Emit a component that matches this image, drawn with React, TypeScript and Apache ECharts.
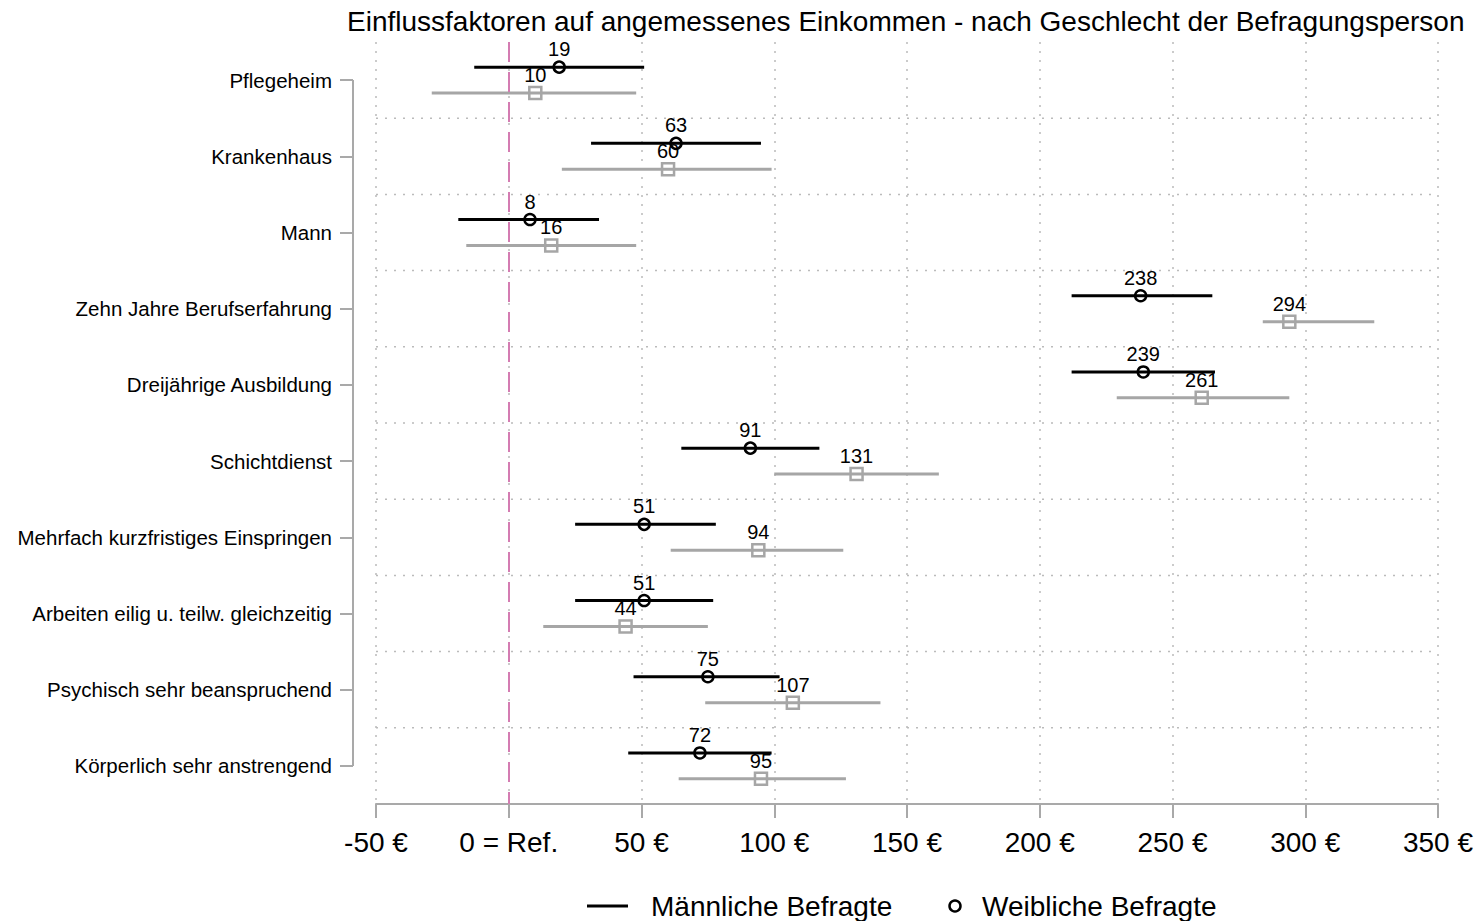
import React, { useEffect, useRef } from "react";
import * as echarts from "echarts";

const categories = [
  "Pflegeheim",
  "Krankenhaus",
  "Mann",
  "Zehn Jahre Berufserfahrung",
  "Dreijährige Ausbildung",
  "Schichtdienst",
  "Mehrfach kurzfristiges Einspringen",
  "Arbeiten eilig u. teilw. gleichzeitig",
  "Psychisch sehr beanspruchend",
  "Körperlich sehr anstrengend",
];
const maleEst = [19, 63, 8, 238, 239, 91, 51, 51, 75, 72];
const maleLo = [-13, 31, -19, 212, 212, 65, 25, 25, 47, 45];
const maleHi = [51, 95, 34, 265, 266, 117, 78, 77, 102, 99];
const femaleEst = [10, 60, 16, 294, 261, 131, 94, 44, 107, 95];
const femaleLo = [-29, 20, -16, 284, 229, 100, 61, 13, 74, 64];
const femaleHi = [48, 99, 48, 326, 294, 162, 126, 75, 140, 127];
const xMin = -50;
const xMax = 350;
const xStep = 50;

const FONT = "'Liberation Sans', Arial, sans-serif";
const GRAY = "#a6a6a6";
const AXIS_GRAY = "#a9a9a9";

function makeRows(lo: number[], hi: number[], est: number[]) {
  return est.map((e, i) => [lo[i], hi[i], e, i]);
}

function errRender(sign: number, color: string, marker: "circle" | "square") {
  return (params: any, api: any) => {
    const idx = api.value(3);
    const band = api.coord([0, 1])[1] - api.coord([0, 0])[1];
    const off = Math.abs(band) * 0.17 * sign;
    const a = api.coord([api.value(0), idx]);
    const b = api.coord([api.value(1), idx]);
    const p = api.coord([api.value(2), idx]);
    const y = p[1] + off;
    const children: any[] = [
      {
        type: "line",
        shape: { x1: a[0], y1: y, x2: b[0], y2: y },
        style: { stroke: color, lineWidth: 3 },
      },
    ];
    if (marker === "circle") {
      children.push({
        type: "circle",
        shape: { cx: p[0], cy: y, r: 5.5 },
        style: { stroke: color, lineWidth: 2.5, fill: "none" },
      });
    } else {
      children.push({
        type: "rect",
        shape: { x: p[0] - 6, y: y - 6, width: 12, height: 12 },
        style: { stroke: color, lineWidth: 2.5, fill: "none" },
      });
    }
    children.push({
      type: "text",
      x: p[0],
      y: y - 18,
      style: {
        text: String(api.value(2)),
        fill: "#000",
        font: `20px ${FONT}`,
        textAlign: "center",
        textVerticalAlign: "middle",
      },
    });
    return { type: "group", children };
  };
}

function frameRender(params: any, api: any) {
  const n = categories.length;
  const children: any[] = [];
  const top = api.coord([xMin, 0]);
  const bot = api.coord([xMin, n - 1]);
  children.push({
    type: "line",
    shape: { x1: top[0] - 23, y1: top[1], x2: bot[0] - 23, y2: bot[1] },
    style: { stroke: AXIS_GRAY, lineWidth: 2 },
  });
  for (let i = 0; i < n - 1; i++) {
    const l1 = api.coord([xMin, i]);
    const l2 = api.coord([xMin, i + 1]);
    const r = api.coord([xMax, i]);
    const y = (l1[1] + l2[1]) / 2;
    children.push({
      type: "line",
      shape: { x1: l1[0], y1: y, x2: r[0], y2: y },
      style: { stroke: "#bbbbbb", lineWidth: 1.5, lineDash: [2, 7] },
    });
  }
  return { type: "group", children };
}

export default function App() {
  const ref = useRef<HTMLDivElement>(null);
  useEffect(() => {
    if (!ref.current) return;
    const chart = echarts.init(ref.current, null, { renderer: "svg" });
    chart.setOption({
      animation: false,
      backgroundColor: "#fff",
      title: {
        text: "Einflussfaktoren auf angemessenes Einkommen - nach Geschlecht der Befragungsperson",
        left: 342,
        top: 2,
        textStyle: { fontSize: 28, fontWeight: "normal", color: "#000", fontFamily: FONT },
      },
      grid: { left: 376, right: 41, top: 42, bottom: 117 },
      xAxis: {
        type: "value",
        min: xMin,
        max: xMax,
        interval: xStep,
        axisLine: { show: true, onZero: false, lineStyle: { color: AXIS_GRAY, width: 2 } },
        axisTick: { show: true, length: 14, lineStyle: { color: AXIS_GRAY, width: 2 } },
        axisLabel: {
          margin: 24,
          fontSize: 28,
          color: "#000",
          fontFamily: FONT,
          formatter: (v: number) => (v === 0 ? "0 = Ref." : `${v} €`),
        },
        splitLine: { show: true, lineStyle: { color: "#bbbbbb", width: 1.5, type: [2, 7] } },
      },
      yAxis: {
        type: "category",
        data: categories,
        inverse: true,
        position: "left",
        offset: 23,
        axisLine: { show: false, onZero: false },
        axisTick: { show: true, alignWithLabel: true, length: 13, lineStyle: { color: AXIS_GRAY, width: 2 } },
        axisLabel: { margin: 21, fontSize: 20.5, color: "#000", fontFamily: FONT },
        splitLine: { show: false },
      },
      series: [
        {
          type: "custom",
          name: "frame",
          silent: true,
          renderItem: frameRender,
          data: [[0, 0]],
          encode: { x: 0, y: 1 },
          z: 1,
          markLine: {
            silent: true,
            symbol: "none",
            label: { show: false },
            lineStyle: { color: "#d47cb2", width: 2, type: [20, 10] },
            data: [{ xAxis: 0 }],
          },
        },
        {
          type: "custom",
          name: "Weibliche Befragte",
          renderItem: errRender(1, GRAY, "square"),
          data: makeRows(femaleLo, femaleHi, femaleEst),
          encode: { x: [0, 1, 2], y: 3 },
          z: 3,
        },
        {
          type: "custom",
          name: "Männliche Befragte",
          renderItem: errRender(-1, "#000", "circle"),
          data: makeRows(maleLo, maleHi, maleEst),
          encode: { x: [0, 1, 2], y: 3 },
          z: 4,
        },
      ],
      graphic: [
        {
          type: "line",
          shape: { x1: 587, y1: 906, x2: 628, y2: 906 },
          style: { stroke: "#000", lineWidth: 3 },
        },
        {
          type: "text",
          x: 651,
          y: 906,
          style: {
            text: "Männliche Befragte",
            font: `28px ${FONT}`,
            fill: "#000",
            textVerticalAlign: "middle",
          },
        },
        {
          type: "circle",
          shape: { cx: 955, cy: 906, r: 5.5 },
          style: { stroke: "#000", lineWidth: 2.5, fill: "#fff" },
        },
        {
          type: "text",
          x: 982,
          y: 906,
          style: {
            text: "Weibliche Befragte",
            font: `28px ${FONT}`,
            fill: "#000",
            textVerticalAlign: "middle",
          },
        },
      ],
    });
    return () => chart.dispose();
  }, []);
  return (
    <div
      ref={ref}
      style={{ position: "fixed", left: 0, top: 0, width: 1479, height: 921, background: "#fff" }}
    />
  );
}
